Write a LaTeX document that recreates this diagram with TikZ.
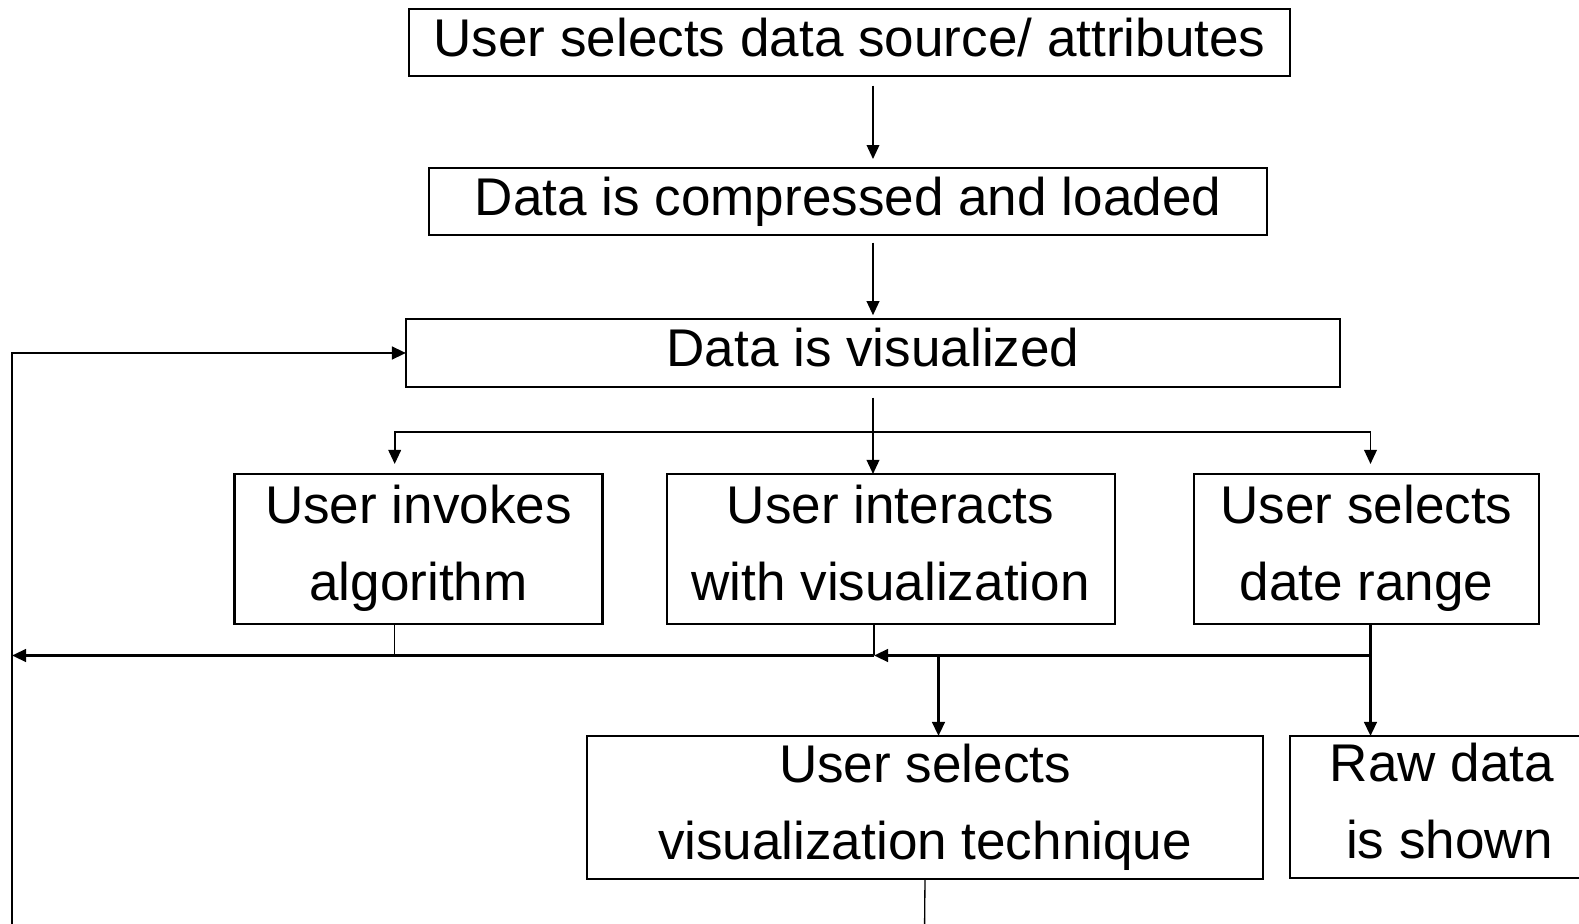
\documentclass[tikz,border=0pt]{standalone}
\usepackage{fontspec}
\setmainfont{Liberation Sans}
\usetikzlibrary{arrows.meta}

\begin{document}
\begin{tikzpicture}[x=0.2mm, y=-0.2mm,
		caixa/.style={draw, line width=1.15pt, inner sep=0pt, outer sep=0pt, align=center,
			text depth=6.6pt, font=\fontsize{30.2}{43.8}\selectfont},
		linha/.style={caixa, text height=22.3pt},
		fino/.style={line width=0.75pt},
		medio/.style={line width=1.1pt},
		grosso/.style={line width=1.5pt},
		seta/.style={-{Triangle[length=2.8mm,width=2.5mm]}}]
			\useasboundingbox (0,0) rectangle (1579,924);
			
			%desenhando as caixas
			\node[linha, minimum width=176.2mm, minimum height=13.3mm] (fonte) at (849.5,42.3) {User selects data source/ attributes};
			\node[linha, minimum width=167.6mm, minimum height=13.3mm] (carga) at (848,201.3) {Data is compressed and loaded};
			\node[linha, minimum width=186.8mm, minimum height=13.5mm] (visual) at (873,353) {Data is visualized};
			\node[caixa, minimum width=73.6mm, minimum height=30mm] (algo) at (418.5,549) {User invokes\\algorithm};
			\node[caixa, minimum width=89.6mm, minimum height=30mm] (interage) at (890.6,549) {User interacts\\with visualization};
			\node[caixa, minimum width=68.9mm, minimum height=30mm] (datas) at (1366.5,549) {User selects\\date range};
			\node[caixa, minimum width=135.2mm, minimum height=28.6mm] (tecnica) at (925,807.5) {User selects\\visualization technique};
			\node[caixa, minimum width=60.8mm, minimum height=28.4mm] (bruto) at (1442,807) {Raw data\\\ is shown};
			
			%pontos de juncao
			\coordinate (gE) at (394.7,432);
			\coordinate (gD) at (1370.5,432);
			\coordinate (j4) at (394.7,655.5);
			\coordinate (j5) at (874,655.5);
			\coordinate (j6) at (1370.5,655.5);
			\coordinate (j7) at (938.5,655.5);
			\coordinate (esq) at (12,655.5);
			\coordinate (baixo) at (12,935);
			\coordinate (fim) at (924.5,935);
			
			%setas de cima
			\draw[medio, seta, shorten <=2mm, shorten >=1.8mm] (fonte.south -| visual) -- (carga.north -| visual);
			\draw[medio, seta, shorten <=1.6mm, shorten >=0.8mm] (carga.south -| visual) -- (visual.north -| visual);
			\draw[medio, seta, shorten <=2.2mm] (visual.south) -- (visual.south |- interage.north);
			\draw[medio, {Triangle[length=2.8mm,width=2.5mm]}-{Triangle[length=2.8mm,width=2.5mm]}, shorten <=2mm, shorten >=2mm]
				(gE |- algo.north) -- (gE) -- (gD) -- (gD |- datas.north);
			
			%setas de baixo
			\draw[fino] (algo.south -| j4) -- (j4);
			\draw[fino] (interage.south -| j5) -- (j5);
			\draw[grosso, seta] (j6) -- (j5);
			\draw[grosso, seta] (j5) -- (esq);
			\draw[grosso, seta] (datas.south -| j6) -- (bruto.north -| j6);
			\draw[grosso, seta] (j7) -- (tecnica.north -| j7);
			\draw[fino] (tecnica.south) -- (fim);
			
			%laco de volta
			\draw[grosso, seta] (baixo) |- (visual.west);
		\end{tikzpicture}
\end{document}
